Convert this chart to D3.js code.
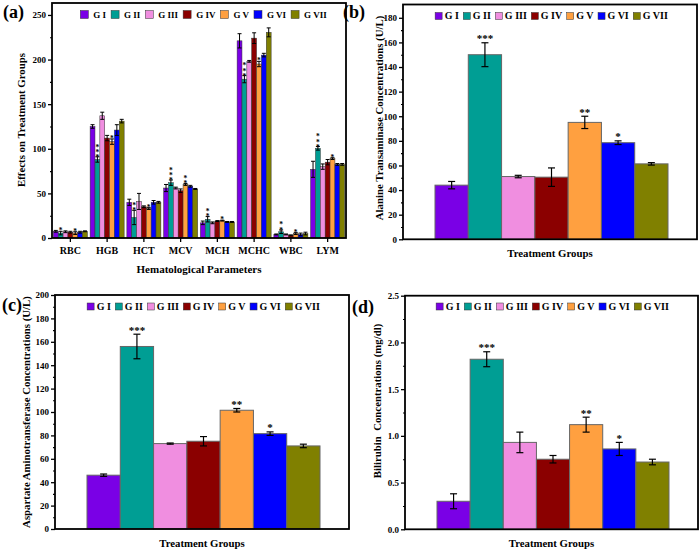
<!DOCTYPE html>
<html><head><meta charset="utf-8">
<script src="https://cdn.jsdelivr.net/npm/d3@7"></script>
<style>
body{margin:0;background:#fff}
svg text{font-family:'Liberation Serif','Times New Roman',serif;font-weight:bold;fill:#000}
text.vstars{writing-mode:vertical-rl;text-orientation:upright}
</style>
</head><body>
<svg id="chart" width="700" height="551"></svg>
<script>
// ---------- data ----------
const groups = ["G I","G II","G III","G IV","G V","G VI","G VII"];
const groupColors = ["#7a00e6","#009e94","#f08ee0","#8b0000","#ffa040","#0000ff","#808000"];

// (a) hematological parameters, values per group G I .. G VII
const hemaParams = ["RBC","HGB","HCT","MCV","MCH","MCHC","WBC","LYM"];
const rbcMean  = [7.5, 5.5, 7, 6.5, 5.5, 6.5, 7.5];
const rbcErr   = [1, 2, 1, 1, 1.5, 1, 0.5];
const rbcStars = [0, 1, 0, 0, 1, 0, 0];
const hgbMean  = [125, 88, 137, 112, 108, 121, 131];
const hgbErr   = [2, 3, 4, 3, 3, 6, 2];
const hgbStars = [0, 3, 0, 0, 1, 0, 0];
const hctMean  = [40, 23, 41, 35, 33, 40, 40];
const hctErr   = [3.5, 8, 9, 1, 1, 2, 1];
const hctStars = [0, 2, 0, 0, 1, 0, 0];
const mcvMean  = [56, 62, 56, 53, 60, 58, 55];
const mcvErr   = [4, 3, 1, 2, 1, 1, 0.5];
const mcvStars = [0, 3, 0, 0, 2, 0, 0];
const mchMean  = [17, 21, 17, 19, 19.5, 18, 18];
const mchErr   = [2, 3, 1, 0.5, 0.5, 0.5, 0.5];
const mchStars = [0, 2, 0, 0, 1, 0, 0];
const mchcMean = [221, 178, 198, 224, 195, 205, 230.5];
const mchcErr  = [8, 4, 1, 6, 3, 2, 5];
const mchcStars= [0, 3, 0, 0, 1, 0, 0];
const wbcMean  = [4, 7, 4, 3, 5, 4, 5];
const wbcErr   = [0.5, 2, 0.5, 0.5, 1, 1.5, 1.5];
const wbcStars = [0, 2, 0, 0, 1, 0, 0];
const lymMean  = [77, 100.5, 80, 85, 89, 82.5, 82.5];
const lymErr   = [9, 2, 3, 3, 1, 1, 1];
const lymStars = [0, 3, 0, 0, 1, 0, 0];
const hemaTicks = [0, 50, 100, 150, 200, 250];

// (b) ALT
const altMean  = [44, 150, 51, 50.5, 95, 78.5, 61.3];
const altErr   = [3, 9.7, 1, 7.5, 5, 1.5, 1];
const altStars = [0, 3, 0, 0, 2, 1, 0];
const altTicks = [0, 20, 40, 60, 80, 100, 120, 140, 160, 180];

// (c) AST
const astMean  = [46, 156, 73, 75, 101.5, 81.5, 71];
const astErr   = [1, 10.5, 0.5, 4, 1.5, 1.5, 1.5];
const astStars = [0, 3, 0, 0, 2, 1, 0];
const astTicks = [0, 20, 40, 60, 80, 100, 120, 140, 160, 180, 200];

// (d) Bilirubin
const bilMean  = [0.30, 1.82, 0.93, 0.75, 1.12, 0.86, 0.72];
const bilErr   = [0.08, 0.08, 0.11, 0.04, 0.08, 0.07, 0.03];
const bilStars = [0, 3, 0, 0, 2, 1, 0];
const bilTicks = [0, 0.5, 1.0, 1.5, 2.0, 2.5];

// ---------- drawing ----------
const svg = d3.select("#chart");

function legend(cx, cy, sw, g1, g2, fs) {
  const lg = svg.append("g");
  const items = groups.map((name, i) => {
    const it = lg.append("g");
    it.append("rect").attr("width", sw).attr("height", sw).attr("y", cy - sw / 2)
      .attr("fill", groupColors[i]).attr("stroke", "#333").attr("stroke-width", 0.5);
    const t = it.append("text").text(name).attr("font-size", fs).attr("y", cy + fs * 0.34);
    return {it, t, w: t.node().getComputedTextLength()};
  });
  const total = d3.sum(items, d => d.w) + groups.length * (sw + g1) + (groups.length - 1) * g2;
  let x = cx - total / 2;
  items.forEach(d => {
    d.it.select("rect").attr("x", x);
    d.t.attr("x", x + sw + g1);
    x += sw + g1 + d.w + g2;
  });
}

function yAxes(y, left, majors, minors, fmt, fs) {
  const a = svg.append("g").attr("transform", `translate(${left},0)`)
    .call(d3.axisLeft(y).tickValues(majors).tickSize(4).tickPadding(2).tickFormat(fmt));
  a.select(".domain").remove();
  a.selectAll("text").attr("font-size", fs);
  a.selectAll("line").attr("stroke-width", 1.3);
  const m = svg.append("g").attr("transform", `translate(${left},0)`)
    .call(d3.axisLeft(y).tickValues(minors).tickSize(2).tickFormat(""));
  m.select(".domain").remove();
  m.selectAll("line").attr("stroke-width", 1.1);
}

function frame(l, t, r, b) {
  svg.append("rect").attr("x", l).attr("y", t).attr("width", r - l).attr("height", b - t)
    .attr("fill", "none").attr("stroke", "#000").attr("stroke-width", 1.8);
}

function rotLabel(text, x, yc, fs) {
  svg.append("text").text(text).attr("font-size", fs).attr("text-anchor", "middle")
    .attr("transform", `translate(${x},${yc}) rotate(-90)`)
    .style("white-space", "pre");
}

function tag(text, x, y) {
  svg.append("text").text(text).attr("x", x).attr("y", y).attr("font-size", 18);
}

// ----- panel (a) -----
(function () {
  const L = 52, R = 346, T = 3, B = 238;
  const means = [rbcMean, hgbMean, hctMean, mcvMean, mchMean, mchcMean, wbcMean, lymMean];
  const errs  = [rbcErr, hgbErr, hctErr, mcvErr, mchErr, mchcErr, wbcErr, lymErr];
  const stars = [rbcStars, hgbStars, hctStars, mcvStars, mchStars, mchcStars, wbcStars, lymStars];
  const y = d3.scaleLinear().domain([0, 263.4]).range([B, T]);
  const x0 = d3.scaleBand().domain(hemaParams).range([L, R]);
  const x1 = d3.scaleBand().domain(groups).range([0, x0.bandwidth()]).paddingOuter(0.28);
  const minors = d3.range(25, 263, 50);
  const starFs = 7.5, starStep = 4.6;
  hemaParams.forEach((p, pi) => {
    const g = svg.append("g").attr("transform", `translate(${x0(p)},0)`);
    groups.forEach((gr, gi) => {
      const v = means[pi][gi], e = errs[pi][gi];
      const bx = x1(gr), bw = x1.bandwidth(), cx = bx + bw / 2;
      g.append("rect").attr("x", bx).attr("y", y(v)).attr("width", bw).attr("height", y(0) - y(v))
        .attr("fill", groupColors[gi]).attr("stroke", "#333").attr("stroke-width", 0.5);
      g.append("line").attr("x1", cx).attr("x2", cx).attr("y1", y(v - e)).attr("y2", y(v + e))
        .attr("stroke", "#000").attr("stroke-width", 1);
      [v - e, v + e].forEach(k => g.append("line").attr("x1", cx - 2).attr("x2", cx + 2)
        .attr("y1", y(k)).attr("y2", y(k)).attr("stroke", "#000").attr("stroke-width", 1));
      const n = stars[pi][gi];
      if (n > 0) {
        // vertical stack of asterisks as one text written top-to-bottom
        g.append("text").attr("class", "vstars").attr("font-size", starFs)
          .attr("x", cx).attr("y", y(v + e) - 5 - (n - 1) * starStep)
          .style("letter-spacing", (starStep - starFs * 1.107) + "px")
          .text("*".repeat(n));
      }
    });
  });
  yAxes(y, L, hemaTicks, minors, d3.format("d"), 9);
  const xa = svg.append("g").attr("transform", `translate(0,${B})`)
    .call(d3.axisBottom(x0).tickSize(4).tickPadding(5));
  xa.select(".domain").remove();
  xa.selectAll("text").attr("font-size", 10);
  xa.selectAll("line").attr("stroke-width", 1.3);
  frame(L, T, R, B);
  legend(203.5, 14.5, 8, 5, 5, 9);
  rotLabel("Effects on Treatment Groups", 24.5, 120, 10.8);
  svg.append("text").text("Hematological Parameters").attr("x", 199).attr("y", 272.5)
    .attr("text-anchor", "middle").attr("font-size", 11);
  tag("(a)", 3, 18);
})();

// ----- panels (b)(c)(d) -----
function groupPanel(o) {
  const y = d3.scaleLinear().domain([0, o.yMax]).range([o.B, o.T]);
  const x = d3.scaleBand().domain(groups).range([o.L + 32, o.R - 29]);
  groups.forEach((gr, gi) => {
    const v = o.means[gi], e = o.errs[gi];
    const bx = x(gr), bw = x.bandwidth(), cx = bx + bw / 2;
    svg.append("rect").attr("x", bx).attr("y", y(v)).attr("width", bw).attr("height", y(0) - y(v))
      .attr("fill", groupColors[gi]).attr("stroke", "#666").attr("stroke-width", 1);
    svg.append("line").attr("x1", cx).attr("x2", cx).attr("y1", y(v - e)).attr("y2", y(v + e))
      .attr("stroke", "#000").attr("stroke-width", 1.2);
    [v - e, v + e].forEach(k => svg.append("line").attr("x1", cx - 3.5).attr("x2", cx + 3.5)
      .attr("y1", y(k)).attr("y2", y(k)).attr("stroke", "#000").attr("stroke-width", 1.2));
    if (o.stars[gi] > 0) {
      svg.append("text").text("*".repeat(o.stars[gi])).attr("x", cx).attr("text-anchor", "middle")
        .attr("font-size", 11).attr("y", y(v + e) - 0.5);
    }
  });
  yAxes(y, o.L, o.ticks, o.minors, o.fmt, 9);
  frame(o.L, o.T, o.R, o.B);
  legend(o.legX, o.legY, 7, 2.5, 4.5, 10);
  rotLabel(o.yLabel, o.yLabX, o.yLabC, 10.8);
  svg.append("text").text("Treatment Groups").attr("x", (o.L + o.R) / 2).attr("y", o.B + 18)
    .attr("text-anchor", "middle").attr("font-size", 10.8);
  tag(o.tag, o.tagX, o.tagY);
}

groupPanel({L: 403, R: 697, T: 4.5, B: 239.3, yMax: 190.8, means: altMean, errs: altErr, stars: altStars,
  ticks: altTicks, minors: d3.range(10, 190, 20), fmt: d3.format("d"),
  legX: 551.5, legY: 16, yLabel: "Alanine Transaminase Concentrations (U/L)", yLabX: 382.5, yLabC: 118,
  tag: "(b)", tagX: 343, tagY: 17.5});

groupPanel({L: 55, R: 349, T: 295, B: 529, yMax: 200, means: astMean, errs: astErr, stars: astStars,
  ticks: astTicks, minors: d3.range(10, 200, 20), fmt: d3.format("d"),
  legX: 203.5, legY: 306.5, yLabel: "Aspartate Aminotransferase Concentrations (U/L)", yLabX: 30, yLabC: 412,
  tag: "(c)", tagX: 2, tagY: 311});

groupPanel({L: 405, R: 698, T: 295.7, B: 529.3, yMax: 2.5, means: bilMean, errs: bilErr, stars: bilStars,
  ticks: bilTicks, minors: d3.range(0.25, 2.5, 0.5), fmt: d3.format(".1f"),
  legX: 552.5, legY: 306.5, yLabel: "Bilirubin  Concentrations (mg/dl)", yLabX: 380.5, yLabC: 401,
  tag: "(d)", tagX: 352, tagY: 313});
</script>
</body></html>
